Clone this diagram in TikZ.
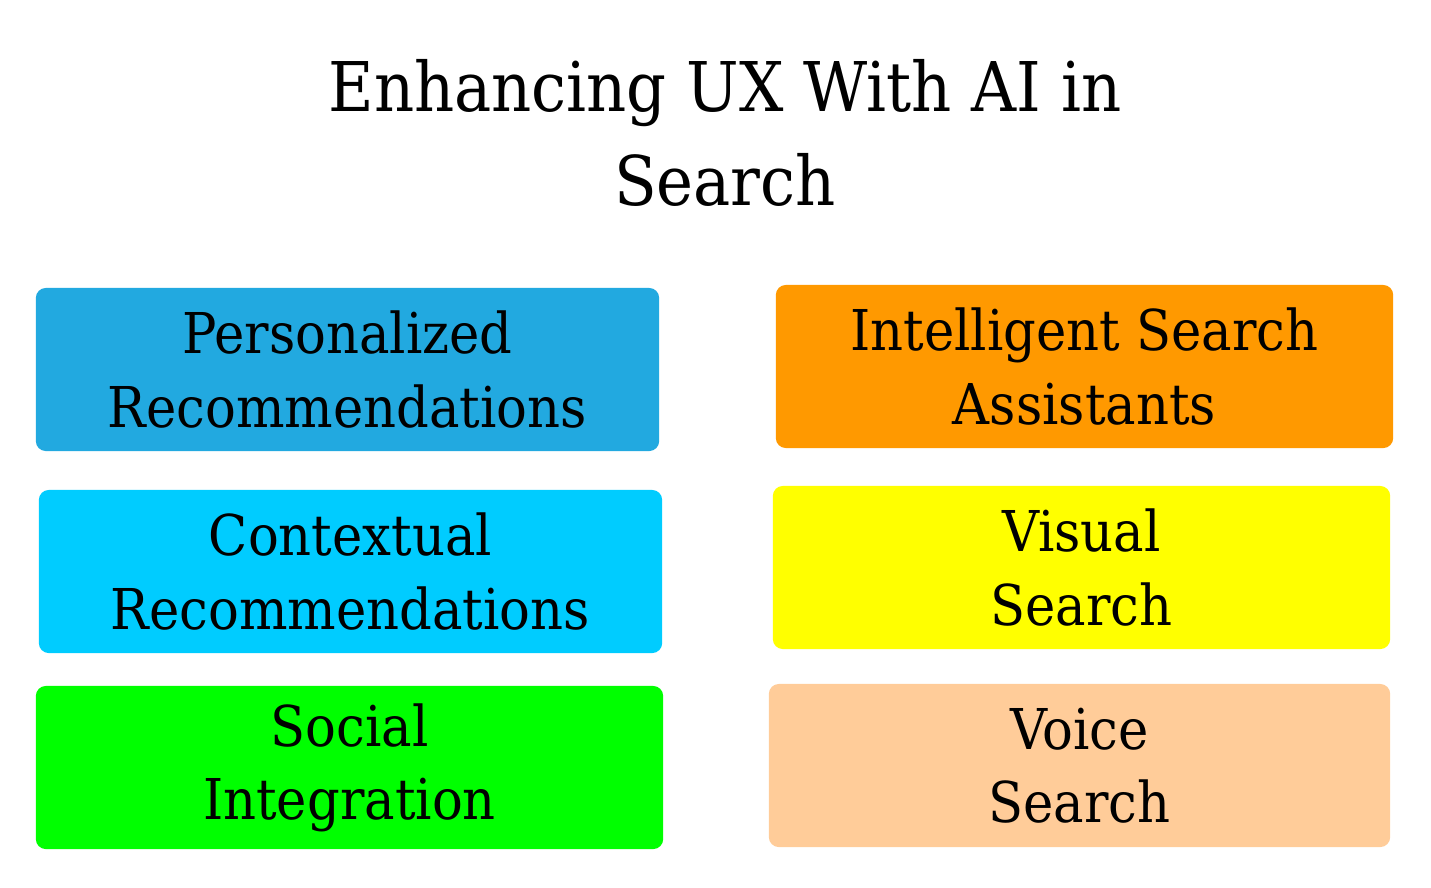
\documentclass[tikz,border=0pt]{standalone}
\usepackage{fontspec}
\setmainfont[FakeStretch=0.91]{DejaVu Serif}
\definecolor{persblue}{HTML}{22A9E0}
\definecolor{ctxcyan}{HTML}{00CCFF}
\definecolor{socgreen}{HTML}{00FF00}
\definecolor{assorange}{HTML}{FF9900}
\definecolor{visyellow}{HTML}{FFFF00}
\definecolor{voicepeach}{HTML}{FFCC99}
\begin{document}
\begin{tikzpicture}[x=0.01cm, y=-0.01cm,
  feature/.style={rounded corners=0.1cm, inner sep=0pt, align=center,
    minimum height=1.63cm, font=\fontsize{16}{20.8}\selectfont}]
\useasboundingbox (0,0) rectangle (1431,887);
\node[align=center, font=\fontsize{19.5}{26.5}\selectfont] (title) at (725,133) {Enhancing UX With AI in\\Search};
% left column
\node[feature, fill=persblue, minimum width=6.23cm] (pers) at (347.5,369.5) {Personalized\\Recommendations};
\node[feature, fill=ctxcyan, minimum width=6.23cm] (ctx) at (350.5,571.5) {Contextual\\Recommendations};
\node[feature, fill=socgreen, minimum width=6.27cm] (soc) at (349.5,767.5) {Social\\Integration};
% right column
\node[feature, fill=assorange, minimum width=6.17cm] (assist) at (1084.5,366.5) {Intelligent Search\\Assistants};
\node[feature, fill=visyellow, minimum width=6.17cm] (visual) at (1081.5,567.5) {Visual\\Search};
\node[feature, fill=voicepeach, minimum width=6.21cm] (voice) at (1079.5,765.5) {Voice\\Search};
\end{tikzpicture}
\end{document}
